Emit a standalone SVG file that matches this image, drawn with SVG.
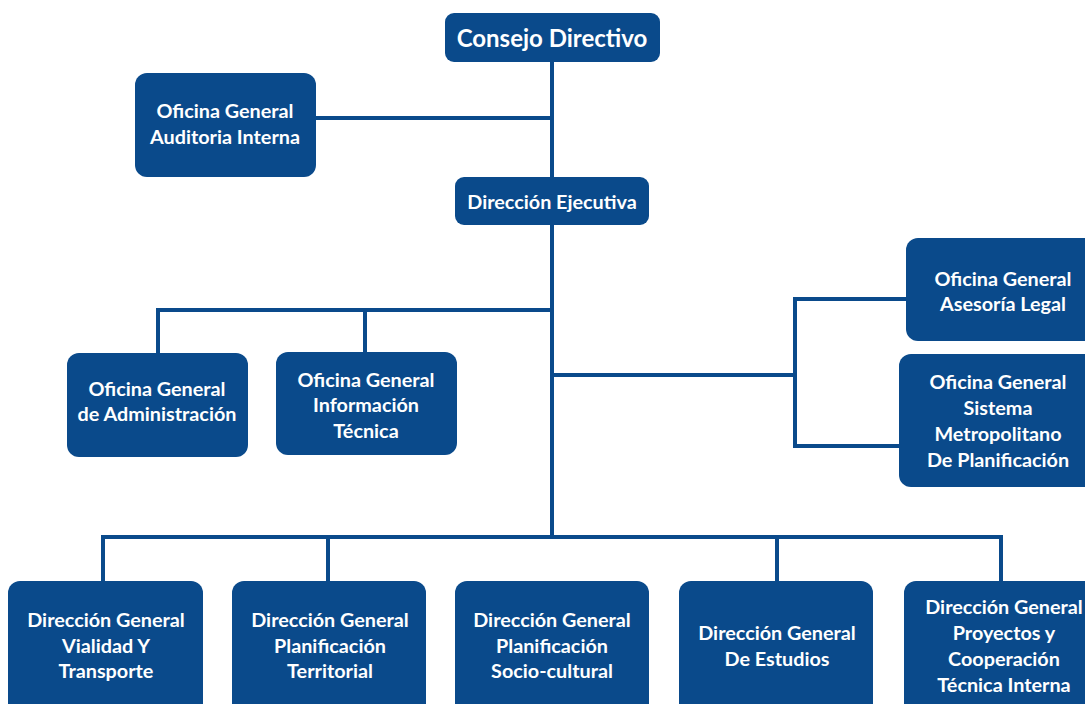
<svg xmlns="http://www.w3.org/2000/svg" width="1085" height="704" viewBox="0 0 1085 704">
<style>
.box{fill:#0a4a8b}
.ln{stroke:#0a4a8b;stroke-width:4;fill:none}
text{font-family:Lato,"Open Sans",sans-serif;font-weight:700;fill:#fff;text-anchor:middle;font-size:19.8px}
.big{font-size:24px}
</style>
<rect width="1085" height="704" fill="#fff"/>
<g id="connectors">
<path class="ln" d="M552 62V537"/>
<path class="ln" d="M316 118H552"/>
<path class="ln" d="M158 353V310H552M365 310V352"/>
<path class="ln" d="M552 375H795M906 299H795V446H900"/>
<path class="ln" d="M103 581V537H1001V581M328 537V581M777 537V581"/>
</g>
<g id="consejo"><rect class="box" x="445" y="13" width="215" height="49" rx="9"/><text class="big" x="552" y="47">Consejo Directivo</text></g>
<g id="auditoria"><rect class="box" x="135" y="73" width="181" height="104" rx="12"/><text x="225" y="118">Oficina General</text><text x="225" y="144">Auditoria Interna</text></g>
<g id="ejecutiva"><rect class="box" x="455" y="177" width="194" height="48" rx="9"/><text x="552" y="209">Dirección Ejecutiva</text></g>
<g id="administracion"><rect class="box" x="67" y="353" width="181" height="104" rx="12"/><text x="157" y="396">Oficina General</text><text x="157" y="421">de Administración</text></g>
<g id="informacion"><rect class="box" x="276" y="352" width="181" height="103" rx="12"/><text x="366" y="387">Oficina General</text><text x="366" y="412">Información</text><text x="366" y="438">Técnica</text></g>
<g id="asesoria"><rect class="box" x="906" y="238" width="195" height="103" rx="12"/><text x="1003" y="286">Oficina General</text><text x="1003" y="311">Asesoría Legal</text></g>
<g id="sistema"><rect class="box" x="899" y="354" width="200" height="133" rx="12"/><text x="998" y="389">Oficina General</text><text x="998" y="415">Sistema</text><text x="998" y="441">Metropolitano</text><text x="998" y="467">De Planificación</text></g>
<g id="vialidad"><rect class="box" x="8" y="581" width="195" height="140" rx="12"/><text x="106" y="627">Dirección General</text><text x="106" y="653">Vialidad Y</text><text x="106" y="678">Transporte</text></g>
<g id="territorial"><rect class="box" x="232" y="581" width="194" height="140" rx="12"/><text x="330" y="627">Dirección General</text><text x="330" y="653">Planificación</text><text x="330" y="678">Territorial</text></g>
<g id="sociocultural"><rect class="box" x="455" y="581" width="194" height="140" rx="12"/><text x="552" y="627">Dirección General</text><text x="552" y="653">Planificación</text><text x="552" y="678">Socio-cultural</text></g>
<g id="estudios"><rect class="box" x="679" y="581" width="194" height="140" rx="12"/><text x="777" y="640">Dirección General</text><text x="777" y="666">De Estudios</text></g>
<g id="proyectos"><rect class="box" x="904" y="581" width="200" height="140" rx="12"/><text x="1004" y="614">Dirección General</text><text x="1004" y="640">Proyectos y</text><text x="1004" y="666">Cooperación</text><text x="1004" y="692">Técnica Interna</text></g>
</svg>
